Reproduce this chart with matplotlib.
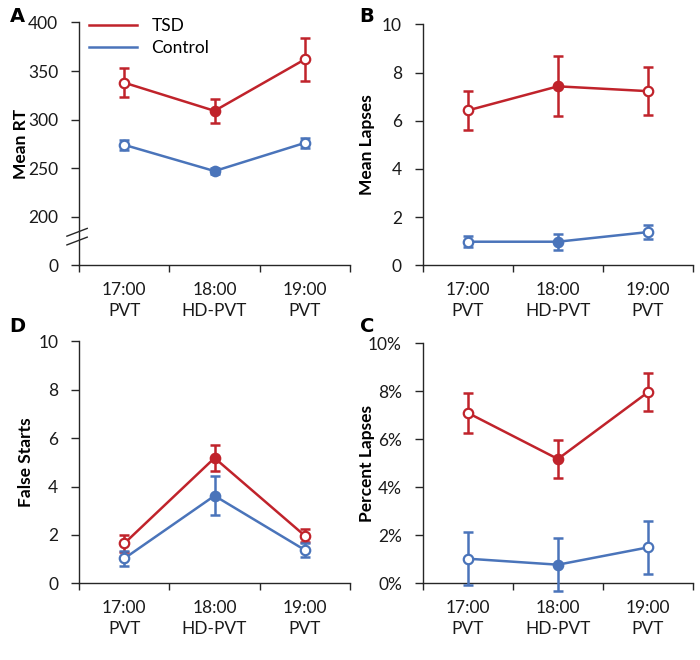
import numpy as np
import matplotlib
matplotlib.use('Agg')
from matplotlib import pyplot as plt
from matplotlib.ticker import FixedLocator, FixedFormatter

plt.rcParams['font.family'] = ['Lato', 'DejaVu Sans']

sessions = ['17:00\nPVT', '18:00\nHD-PVT', '19:00\nPVT']
filled = [False, True, False]

# A: mean RT (axis broken between 0 and 200)
rt_tsd = [338, 309, 362]
rt_tsd_err = [15, 12, 22]
rt_ctl = [274, 247, 276]
rt_ctl_err = [5, 3, 5]

# B: mean lapses
lapses_tsd = [6.43, 7.43, 7.23]
lapses_tsd_err = [0.8, 1.25, 1.0]
lapses_ctl = [0.98, 0.98, 1.38]
lapses_ctl_err = [0.24, 0.33, 0.28]

# D: false starts
fs_tsd = [1.65, 5.18, 1.97]
fs_tsd_err = [0.35, 0.52, 0.26]
fs_ctl = [1.03, 3.62, 1.38]
fs_ctl_err = [0.3, 0.8, 0.3]

# C: percent lapses
pct_tsd = [7.1, 5.18, 7.96]
pct_tsd_err = [0.82, 0.8, 0.8]
pct_ctl = [1.03, 0.78, 1.5]
pct_ctl_err = [1.1, 1.1, 1.1]

RED = '#C0232B'
BLUE = '#4A74BA'
AXC = '#262626'
W, H = 700, 660


def draw_series(ax, y, err, color, label=None):
    x = np.arange(1, len(y) + 1)
    ax.plot(x, y, color=color, lw=1.8, label=label, zorder=2)
    ax.errorbar(x, y, yerr=err, fmt='none', ecolor=color, elinewidth=1.8,
                capsize=3.5, capthick=1.8, zorder=3, clip_on=False)
    for xi, yi, f in zip(x, y, filled):
        ax.plot(xi, yi, 'o', ms=6.8, mec=color, mew=1.6,
                mfc=color if f else 'white', zorder=4, clip_on=False)


def style_axis(ax, ylim, ticks, ticklabels, ylabel, labelx):
    ax.set_xlim(0.5, 3.5)
    ax.set_ylim(*ylim)
    for s in ['top', 'right']:
        ax.spines[s].set_visible(False)
    for s in ['left', 'bottom']:
        ax.spines[s].set_color(AXC)
        ax.spines[s].set_linewidth(1.0)
    ax.xaxis.set_major_locator(FixedLocator([0.5, 1.5, 2.5, 3.5]))
    ax.xaxis.set_major_formatter(FixedFormatter([]))
    ax.xaxis.set_minor_locator(FixedLocator([1, 2, 3]))
    ax.xaxis.set_minor_formatter(FixedFormatter(sessions))
    ax.tick_params(axis='x', which='major', direction='out', length=5,
                   color=AXC, width=1.0)
    ax.tick_params(axis='x', which='minor', length=0, pad=12,
                   labelsize=12.5, labelcolor='#1a1a1a')
    for t in ax.xaxis.get_minorticklabels():
        t.set_linespacing(1.35)
    ax.set_yticks(ticks)
    ax.set_yticklabels(ticklabels)
    ax.tick_params(axis='y', direction='out', length=6, color=AXC, width=1.0,
                   labelsize=12.5, labelcolor='#1a1a1a', pad=9)
    ax.set_ylabel(ylabel, fontsize=12.5, fontweight='bold')
    ax.yaxis.set_label_coords(labelx, 0.5)


fig = plt.figure(figsize=(7.0, 6.6), dpi=100)
axA = fig.add_axes([0.113, 0.598, 0.387, 0.368])
axB = fig.add_axes([0.604, 0.598, 0.386, 0.365])
axD = fig.add_axes([0.113, 0.116, 0.387, 0.367])
axC = fig.add_axes([0.604, 0.116, 0.386, 0.364])

# A
draw_series(axA, rt_tsd, rt_tsd_err, RED, 'TSD')
draw_series(axA, rt_ctl, rt_ctl_err, BLUE, 'Control')
style_axis(axA, (150, 400), [150, 200, 250, 300, 350, 400],
           ['0', '200', '250', '300', '350', '400'], 'Mean RT', -0.185)
axA.legend(loc='upper left', frameon=False, fontsize=12.5, handlelength=2.8,
           handletextpad=0.8, labelspacing=0.3, borderaxespad=0.0,
           bbox_to_anchor=(0.01, 1.045))
# break marks on the y axis
brk = axA.get_yaxis_transform()
for y0 in [171, 180]:
    axA.plot([-0.045, 0.03], [y0, y0 + 8], transform=brk, color=AXC,
             lw=1.0, clip_on=False)

# B
draw_series(axB, lapses_tsd, lapses_tsd_err, RED)
draw_series(axB, lapses_ctl, lapses_ctl_err, BLUE)
style_axis(axB, (0, 10), [0, 2, 4, 6, 8, 10],
           ['0', '2', '4', '6', '8', '10'], 'Mean Lapses', -0.178)

# D
draw_series(axD, fs_tsd, fs_tsd_err, RED)
draw_series(axD, fs_ctl, fs_ctl_err, BLUE)
style_axis(axD, (0, 10), [0, 2, 4, 6, 8, 10],
           ['0', '2', '4', '6', '8', '10'], 'False Starts', -0.166)

# C
draw_series(axC, pct_tsd, pct_tsd_err, RED)
draw_series(axC, pct_ctl, pct_ctl_err, BLUE)
style_axis(axC, (0, 10), [0, 2, 4, 6, 8, 10],
           ['0%', '2%', '4%', '6%', '8%', '10%'], 'Percent Lapses', -0.178)

# panel letters
for letter, px, py in [('A', 17, 17), ('B', 367, 17), ('D', 17, 327), ('C', 367, 327)]:
    fig.text(px / W, 1 - py / H, letter, fontsize=14, fontweight='bold',
             ha='center', va='center', family='DejaVu Sans')

fig.savefig('out.png', dpi=100)
